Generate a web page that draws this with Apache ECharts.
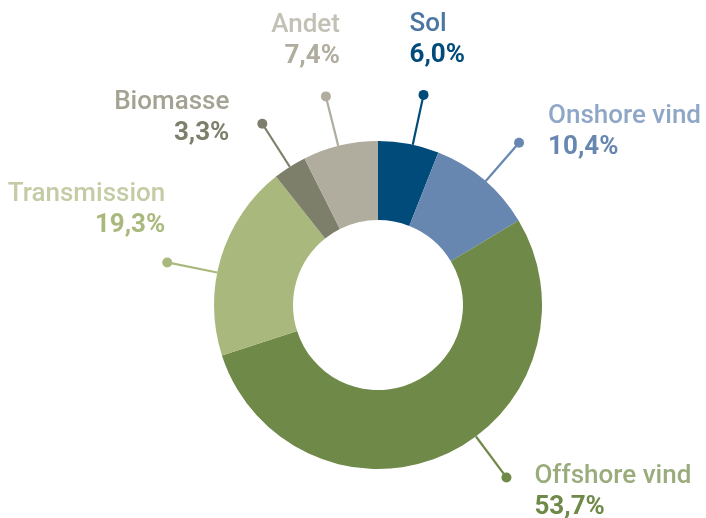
<!DOCTYPE html>
<html>
<head>
<meta charset="utf-8">
<script src="https://cdn.jsdelivr.net/npm/echarts@6/dist/echarts.min.js"></script>
<style>
  html, body { margin: 0; padding: 0; background: #fff; }
  #chart { width: 706px; height: 518px; }
</style>
</head>
<body>
<div id="chart"></div>
<script>
var categories = ['Sol', 'Onshore vind', 'Offshore vind', 'Transmission', 'Biomasse', 'Andet'];
var shares = [6.0, 10.4, 53.7, 19.3, 3.3, 7.4];

// farver: skive / procent, og lysere navn
var sliceColors = ['#004b7a', '#6787b0', '#6e8948', '#a9b97d', '#7e7f6b', '#b0ad9e'];
var nameColors = ['#4c76a2', '#8fa7c7', '#9aac7c', '#c3cca5', '#a3a293', '#c3c0b5'];

// label placering i forhold til prikken (symbolets øverste venstre hjørne)
var labelOffsets = [
    { pos: [-9, -19], align: 'left', vAlign: 'bottom' },
    { pos: [34, -6], align: 'left', vAlign: 'middle' },
    { pos: [33, 20], align: 'left', vAlign: 'middle' },
    { pos: [3, -47], align: 'right', vAlign: 'middle' },
    { pos: [-28, -1], align: 'right', vAlign: 'middle' },
    { pos: [19, -50], align: 'right', vAlign: 'middle' }
];
// lille forskydning af streger (i procentenheder)
var lineShift = [0.4, 0.2, -3.4, -1.5, 0, -0.2];

var innerR = 85, outerR = 164, dotR = 215;
var total = shares.reduce(function (a, b) { return a + b; }, 0);

var fmt = function (v) { return v.toFixed(1).replace('.', ',') + '%'; };

var chart = echarts.init(document.getElementById('chart'));

var series = [{
    type: 'pie',
    center: [378, 305],
    radius: [innerR, outerR],
    startAngle: 90,
    clockwise: true,
    silent: true,
    animation: false,
    label: { show: false },
    labelLine: { show: false },
    data: categories.map(function (c, i) {
        return { name: c, value: shares[i], itemStyle: { color: sliceColors[i] } };
    })
}];

// streger med prik i polært koordinatsystem
var acc = 0;
categories.forEach(function (c, i) {
    var mid = acc + shares[i] / 2 + lineShift[i];
    acc += shares[i];
    var off = labelOffsets[i];
    series.push({
        type: 'line',
        coordinateSystem: 'polar',
        silent: true,
        animation: false,
        clip: false,
        symbol: 'circle',
        showSymbol: true,
        showAllSymbol: true,
        symbolSize: function (v, p) { return p.dataIndex === 1 ? 10 : 0; },
        itemStyle: { color: sliceColors[i] },
        lineStyle: { color: sliceColors[i], width: 2.2 },
        labelLayout: { hideOverlap: false },
        data: [
            { value: [outerR, mid], label: { show: false } },
            {
                value: [dotR, mid],
                label: {
                    show: true,
                    position: off.pos,
                    align: off.align,
                    verticalAlign: off.vAlign,
                    formatter: '{n|' + c + '}\n{p|' + fmt(shares[i]) + '}',
                    rich: {
                        n: { fontFamily: 'Roboto', fontSize: 26, fontWeight: 500, color: nameColors[i], lineHeight: 31, align: off.align },
                        p: { fontFamily: 'Roboto', fontSize: 26, fontWeight: 'bold', color: sliceColors[i], lineHeight: 31, align: off.align }
                    }
                }
            }
        ]
    });
});

chart.setOption({
    backgroundColor: '#fff',
    polar: { center: [378, 305], radius: dotR + 30 },
    angleAxis: { type: 'value', min: 0, max: total, startAngle: 90, clockwise: true, show: false },
    radiusAxis: { type: 'value', min: 0, max: dotR + 30, show: false },
    series: series
});
</script>
</body>
</html>
